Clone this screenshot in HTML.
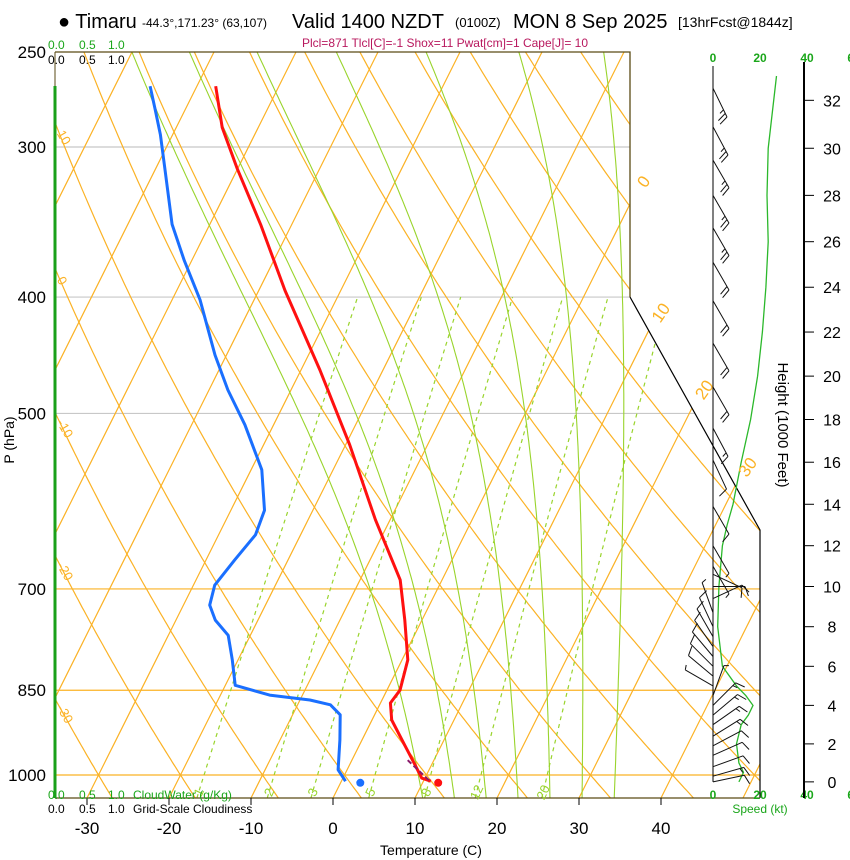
<!DOCTYPE html>
<html><head><meta charset="utf-8"><style>
html,body{margin:0;padding:0;background:#fff;}
svg{display:block;font-family:"Liberation Sans",Arial,sans-serif;}
</style></head><body>
<svg id="chart" width="850" height="860" viewBox="0 0 850 860" xmlns="http://www.w3.org/2000/svg">
<defs><clipPath id="plotclip"><polygon points="55,52 630,52 630,297 760,530 760,798 55,798"/></clipPath></defs>
<g id="title">
<text x="58" y="28" font-size="20">● Timaru</text>
<text x="142" y="27" font-size="12">-44.3°,171.23° (63,107)</text>
<text x="292" y="28" font-size="20">Valid 1400 NZDT</text>
<text x="455" y="27" font-size="13">(0100Z)</text>
<text x="513" y="28" font-size="20">MON 8 Sep 2025</text>
<text x="678" y="27" font-size="14">[13hrFcst@1844z]</text>
</g>
<text x="445" y="47" font-size="12" fill="#b8185e" text-anchor="middle">Plcl=871 Tlcl[C]=-1 Shox=11 Pwat[cm]=1 Cape[J]= 10</text>
<g font-size="12">
<text x="48" y="49" fill="#1aa61a">0.0</text><text x="79" y="49" fill="#1aa61a">0.5</text><text x="108" y="49" fill="#1aa61a">1.0</text>
<text x="48" y="64" fill="#000">0.0</text><text x="79" y="64" fill="#000">0.5</text><text x="108" y="64" fill="#000">1.0</text>
</g>
<g id="grid" clip-path="url(#plotclip)"></g>
<g id="profiles" clip-path="url(#plotclip)"></g>
<g id="frame"></g>
<g id="winds"></g>
<g id="labels"></g>
</svg>
<script>
// ---- data ----
const tempP = [267,289,313,348,395,460,531,613,688,743,802,850,871,900,944,981,1006,1012];
const tempT = [-57.7,-54.4,-50.0,-43.8,-36.8,-27.7,-19.5,-11.8,-5.1,-2.1,0.7,1.6,1.2,2.4,5.5,8.0,9.6,10.9];
const dewP = [267,279,293,311,348,373,402,447,478,511,557,602,631,662,695,722,743,765,802,842,858,866,874,891,935,990,1012];
const dewT = [-65.7,-63.7,-61.5,-59.1,-54.6,-50.9,-46.6,-41.4,-37.7,-33.5,-28.7,-25.9,-25.5,-26.5,-27.4,-26.8,-25.2,-22.7,-20.7,-18.8,-14.0,-8.8,-6.0,-4.2,-2.7,-1.1,0.5];
const parcelP = [972,1013];
const parcelT = [6.8,10.9];
const sfcT = 11.9, sfcTd = 2.4, sfcP = 1015;
const tempTicks = [-30,-20,-10,0,10,20,30,40];
const pressTicks = [250,300,400,500,700,850,1000];
const heightTicks = [0,2,4,6,8,10,12,14,16,18,20,22,24,26,28,30,32];
const mixRatios = [1,2,3,5,8,12,20];
const thetaW = [9,13,17,21,25,29,33];
const dryAdiabatLabels = [10,0,-10,-20,-30];
const isothermLabels = [0,10,20,30];
const barbH = [32.5,30.9,29.5,28,26.6,25.1,23.4,21.5,19.5,17.6,16.1,13.9,12,11,10.6,10,9.4,8.7,8,7.5,7,6.5,6,5.5,5,4.5,4,3.5,3,2.4,1.9,1.4,0.8,0.3,0];
const barbDir = [154,152,150,150,150,150,150,150,150,152,155,150,150,150,115,90,65,340,335,330,325,320,315,310,300,20,45,50,55,58,62,66,70,74,78];
const barbSpd = [27,25,23,23,23,22,22,21,18,14,10,8,5,4,10,12,10,6,8,10,12,12,10,8,6,5,17,16,15,14,12,12,12,13,12];
const spdH = [33,30,28,26,24,22,20,18,16,14,13,12,10,8,6,5,4.5,4,3.5,3,2,1,0.5,0];
const spdV = [27,23.5,23,23.5,22.5,21,19,16,12,8.5,6,4,2.5,2,4,10,14,17,15,12,10,11,13,11];

// ---- axis functions ----
const Y0=775, PS=521.6, XB=333, DX=8.2, YB=798, SK=0.5;
function yP(p){return Y0-PS*Math.log(1000/p);}
function xT(T,p){return XB+DX*T+SK*(YB-yP(p));}
function pH(h){return 1013.25*Math.pow(1-h*1000/145366,1/0.190284);}
const SX0=713, SPX=2.35;
const NS='http://www.w3.org/2000/svg';
function mk(tag,attrs,parent){const e=document.createElementNS(NS,tag);for(const k in attrs)e.setAttribute(k,attrs[k]);parent.appendChild(e);return e;}
const grid=document.getElementById('grid'), prof=document.getElementById('profiles'), frame=document.getElementById('frame'), winds=document.getElementById('winds'), labels=document.getElementById('labels');
const OR='#fbb225', MG='#99d42c';
function ptsPath(arr){return 'M'+arr.map(a=>a[0].toFixed(1)+','+a[1].toFixed(1)).join('L');}

// horizontal pressure lines
[[300,'#c8c8c8'],[400,'#c8c8c8'],[500,'#c8c8c8'],[700,OR],[850,OR],[1000,OR]].forEach(([p,c])=>{
 const l=mk('line',{x1:55,x2:760,y1:yP(p),y2:yP(p),stroke:c,'stroke-width':1.2},grid);
 
 
});
// isotherms
for(let T=-120;T<=50;T+=10){
 const l=mk('line',{x1:xT(T,1045),y1:yP(1045),x2:xT(T,250),y2:yP(250),stroke:OR,'stroke-width':1.2},grid);
 
 
}
// dry adiabats
for(let th=-40;th<=140;th+=10){
 const pts=[];for(let p=1045;p>=250;p-=5){const T=(th+273.15)*Math.pow(p/1000,0.2857)-273.15;pts.push([xT(T,p),yP(p)]);}
 const l=mk('path',{d:ptsPath(pts),fill:'none',stroke:OR,'stroke-width':1.2},grid);
 
 
}
// moist adiabats
function es(Tc){return 6.112*Math.exp(17.67*Tc/(Tc+243.5));}
function moistRate(TK,p){const e=es(TK-273.15);const rs=0.622*e/(p-e);return (287*TK+2.5e6*rs)/(1005+2.5e6*2.5e6*rs*0.622/(287*TK*TK));}
thetaW.forEach(tw=>{
 const up=[];let TK=tw+273.15;let lp=Math.log(1000);
 while(lp>Math.log(250)){up.push([xT(TK-273.15,Math.exp(lp)),yP(Math.exp(lp))]);const d=-0.01;TK+=moistRate(TK,Math.exp(lp))*d;lp+=d;}
 up.push([xT(TK-273.15,Math.exp(lp)),yP(Math.exp(lp))]);
 const dn=[];TK=tw+273.15;lp=Math.log(1000);
 while(lp<Math.log(1045)){const d=0.01;TK+=moistRate(TK,Math.exp(lp))*d;lp+=d;dn.push([xT(TK-273.15,Math.exp(lp)),yP(Math.exp(lp))]);}
 const pts=dn.reverse().concat(up);
 const l=mk('path',{d:ptsPath(pts),fill:'none',stroke:MG,'stroke-width':1.1},grid);
 
 
});
// mixing ratio lines
function tdW(w,p){const e=w*p/(622+w);const a=Math.log(e/6.112);return 243.5*a/(17.67-a);}
mixRatios.forEach(w=>{
 const pts=[];for(let p=1045;p>=400;p-=5)pts.push([xT(tdW(w,p),p),yP(p)]);
 const l=mk('path',{d:ptsPath(pts),fill:'none',stroke:MG,'stroke-width':1.2,'stroke-dasharray':'4,4'},grid);
 
 
 const lx=xT(tdW(w,1030),1030);
 const t=mk('text',{x:lx,y:yP(1030)+6,'font-size':13,fill:MG,'text-anchor':'middle',transform:'rotate(-65 '+lx+' '+(yP(1030)+2)+')'},labels);
 t.textContent=w;
 
 
});
// profiles
function prPath(P,T){return ptsPath(P.map((p,i)=>[xT(T[i],p),yP(p)]));}
let e=mk('path',{d:prPath(dewP,dewT),fill:'none',stroke:'#1a6fff','stroke-width':3,'stroke-linejoin':'round'},prof);


e=mk('path',{d:prPath(tempP,tempT),fill:'none',stroke:'#ff1010','stroke-width':3,'stroke-linejoin':'round'},prof);


e=mk('path',{d:prPath(parcelP,parcelT),fill:'none',stroke:'#8a1a6a','stroke-width':2,'stroke-dasharray':'5,3'},prof);


e=mk('circle',{cx:xT(sfcT,sfcP),cy:yP(sfcP),r:4,fill:'#ff1010'},prof);


e=mk('circle',{cx:xT(sfcTd,sfcP),cy:yP(sfcP),r:4,fill:'#1a6fff'},prof);



// frame
e=mk('polyline',{points:'55,52 630,52 630,297',fill:'none',stroke:'#5a4a14','stroke-width':1.3},frame);


e=mk('polyline',{points:'630,297 760,530 760,798',fill:'none',stroke:'#000','stroke-width':1.2},frame);


e=mk('line',{x1:55,x2:760,y1:798,y2:798,stroke:'#5a4a14','stroke-width':1.3},frame);


e=mk('line',{x1:55,x2:55,y1:52,y2:798,stroke:'#5a4a14','stroke-width':1},frame);


e=mk('line',{x1:55,x2:55,y1:86,y2:798,stroke:'#1aa01a','stroke-width':3},frame);


// ticks + labels
tempTicks.forEach(T=>{
 const x=xT(T,pYB());
 mk('line',{x1:x,x2:x,y1:798,y2:805,stroke:'#000'},frame);
 const t=mk('text',{x:x,y:834,'font-size':17,'text-anchor':'middle'},labels);t.textContent=T;
 
 
});
function pYB(){return 1000*Math.exp((YB-Y0)/PS);}
pressTicks.forEach(p=>{
 const t=mk('text',{x:46,y:yP(p)+6,'font-size':17,'text-anchor':'end'},labels);t.textContent=p;
 
 
});
e=mk('text',{x:14,y:440,'font-size':14,'text-anchor':'middle',transform:'rotate(-90 14 440)'},labels);e.textContent='P (hPa)';


e=mk('text',{x:431,y:855,'font-size':14,'text-anchor':'middle'},labels);e.textContent='Temperature (C)';


// dry adiabat labels on left edge
dryAdiabatLabels.forEach(th=>{
 let best=1000,bd=1e9;for(let p=250;p<=1045;p+=1){const T=(th+273.15)*Math.pow(p/1000,0.2857)-273.15;const d=Math.abs(xT(T,p)-58);if(d<bd){bd=d;best=p;}}
 const y=yP(best)+6;
 const t=mk('text',{x:60,y:y,'font-size':13,fill:OR,transform:'rotate(60 60 '+(y-4)+')'},labels);t.textContent=th;
 
 
});
// isotherm labels on right edge
isothermLabels.forEach(T=>{
 let y;for(let p=250;p<=1045;p+=1){const x=xT(T,p),yy=yP(p);const xr=yy<297?630:630+(yy-297)*130/233;if(x<=xr+8){y=yy;break;}}
 const x=xT(T,pFromY(y))+8;
 const t=mk('text',{x:x,y:y,'font-size':17,fill:OR,transform:'rotate(-55 '+x+' '+y+')'},labels);t.textContent=T;
 
 
});
function pFromY(y){return 1000*Math.exp((y-Y0)/PS);}
// bottom-left legend text
[['0.0',48,799,'#1aa61a'],['0.5',79,799,'#1aa61a'],['1.0',108,799,'#1aa61a'],['0.0',48,813,'#000'],['0.5',79,813,'#000'],['1.0',108,813,'#000']].forEach(a=>{
 const t=mk('text',{x:a[1],y:a[2],'font-size':12,fill:a[3]},labels);t.textContent=a[0];
 
 
});
e=mk('text',{x:133,y:799,'font-size':12,fill:'#1aa61a'},labels);e.textContent='CloudWater (g/Kg)';


e=mk('text',{x:133,y:813,'font-size':12,fill:'#000'},labels);e.textContent='Grid-Scale Cloudiness';



// ---- wind panel ----
function yHt(h){return yP(pH(h));}
e=mk('line',{x1:SX0,x2:SX0,y1:66,y2:yHt(0),stroke:'#000','stroke-width':1},winds);


[0,20,40,60].forEach(s=>{
 [62,799].forEach(y=>{
  const t=mk('text',{x:SX0+s*SPX,y:y,'font-size':12,fill:'#1aa61a','text-anchor':'middle','font-weight':'bold'},winds);t.textContent=s;
  
  
 });
});
e=mk('text',{x:760,y:813,'font-size':12,fill:'#1aa61a','text-anchor':'middle'},winds);e.textContent='Speed (kt)';


e=mk('path',{d:ptsPath(spdH.map((h,i)=>[SX0+spdV[i]*SPX,yHt(h)])),fill:'none',stroke:'#2bb82b','stroke-width':1.3},winds);


barbH.forEach((h,i)=>{
 const d=barbDir[i]*Math.PI/180, L=32;
 const ux=Math.sin(d), uy=-Math.cos(d);
 const bx=SX0, by=yHt(h), tx=bx+ux*L, ty=by+uy*L;
 const a=70*Math.PI/180; const vx=ux*Math.cos(a)-uy*Math.sin(a), vy=ux*Math.sin(a)+uy*Math.cos(a);
 let dstr='M'+bx+','+by.toFixed(1)+'L'+tx.toFixed(1)+','+ty.toFixed(1);
 let s=Math.round(barbSpd[i]/5)*5, k=0;
 while(s>=10){const px=tx-ux*k*4, py=ty-uy*k*4;dstr+='M'+px.toFixed(1)+','+py.toFixed(1)+'l'+(vx*10).toFixed(1)+','+(vy*10).toFixed(1);s-=10;k++;}
 if(s>=5){const px=tx-ux*k*4, py=ty-uy*k*4;dstr+='M'+px.toFixed(1)+','+py.toFixed(1)+'l'+(vx*5).toFixed(1)+','+(vy*5).toFixed(1);}
 const b=mk('path',{d:dstr,fill:'none',stroke:'#111','stroke-width':1},winds);
 
 
});
// height axis
e=mk('line',{x1:804,x2:804,y1:62,y2:798,stroke:'#000','stroke-width':2},winds);


heightTicks.forEach(h=>{
 const y=yHt(h);
 mk('line',{x1:804,x2:814,y1:y,y2:y,stroke:'#000'},winds);
 const t=mk('text',{x:832,y:y+6,'font-size':16,'text-anchor':'middle'},winds);t.textContent=h;
 
 
});
e=mk('text',{x:778,y:425,'font-size':15,'text-anchor':'middle',transform:'rotate(90 778 425)'},winds);e.textContent='Height (1000 Feet)';


</script>
</body></html>
